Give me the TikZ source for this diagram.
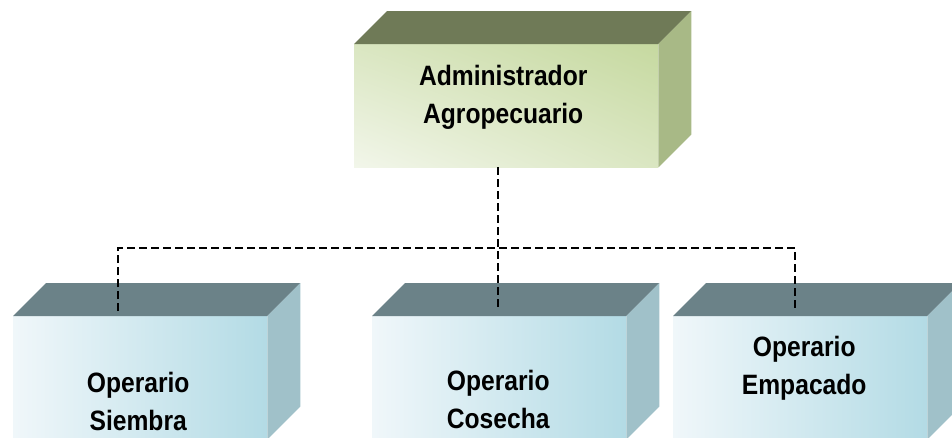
\documentclass[tikz,border=0pt]{standalone}
\usepackage{fontspec}
\setmainfont{Liberation Sans}
\newfontfamily\boxfont{Liberation Sans}[FakeStretch=0.88]
\usepackage{tikz}
\usetikzlibrary{positioning}
\usetikzlibrary{calc,shadings}
\definecolor{greentop}{HTML}{6F7A57}
\definecolor{greenside}{HTML}{A8B986}
\definecolor{greenhi}{HTML}{C6D9A0}
\definecolor{greenlo}{HTML}{F2F6EA}
\definecolor{bluetop}{HTML}{6B8288}
\definecolor{blueside}{HTML}{A0C1C9}
\definecolor{bluehi}{HTML}{B3DBE5}
\definecolor{bluelo}{HTML}{F0F7FA}
\tikzset{front/.style={rectangle,anchor=north west,inner sep=0pt,minimum height=123pt},
  green front/.style={front,minimum width=304pt,lower left=greenlo,upper right=greenhi,
    upper left=greenhi!55!greenlo,lower right=greenhi!55!greenlo},
  blue front/.style={front,minimum width=254pt,left color=bluelo,right color=bluehi},
  box text/.style={anchor=base,align=center,inner sep=0pt,font=\boxfont\bfseries\fontsize{28}{38}\selectfont},
  link/.style={draw,line width=2.2pt,dash pattern=on 8pt off 4pt},}

\begin{document}
\begin{tikzpicture}[x=1pt,y=-1pt]
    \useasboundingbox (0,0) rectangle (952,437);
    \clip (0,0) rectangle (952,437);

    % front faces
    \node[green front] (admin) at (354,44) {};
    \node[blue front] (siembra) at (13,316) {};
    \node[blue front] (cosecha) at (372,316) {};
    \node[blue front] (empacado) at (673,316) {};

    % top and side faces
    \foreach \n/\t/\s in {admin/greentop/greenside,siembra/bluetop/blueside,
        cosecha/bluetop/blueside,empacado/bluetop/blueside}{
      \fill[\t] (\n.north west) -- ++(33,-33) -- ($(\n.north east)+(33,-33)$) -- (\n.north east) -- cycle;
      \fill[\s] (\n.north east) -- ++(33,-33) -- ($(\n.south east)+(33,-33)$) -- (\n.south east) -- cycle;
    }

    % labels
    \node[box text] (admin text) at ($(admin.north)+(-3,79)$) {Administrador\\Agropecuario};
    \node[box text] (siembra text) at ($(siembra.north)+(-2,114)$) {Operario\\Siembra};
    \node[box text] (cosecha text) at ($(cosecha.north)+(-1,112)$) {Operario\\Cosecha};
    \node[box text] (empacado text) at ($(empacado.north)+(4,78)$) {Operario\\Empacado};

    % dashed links
    \coordinate (bus) at (498,248);
    \coordinate (drop1) at (118,311);
    \coordinate (drop3) at (795,311);
    \path[link] (admin.south -| bus) -- ($(cosecha.north -| bus)+(0,-5)$);
    \path[link] (drop1) |- (bus) -| (drop3);
\end{tikzpicture}
\end{document}
